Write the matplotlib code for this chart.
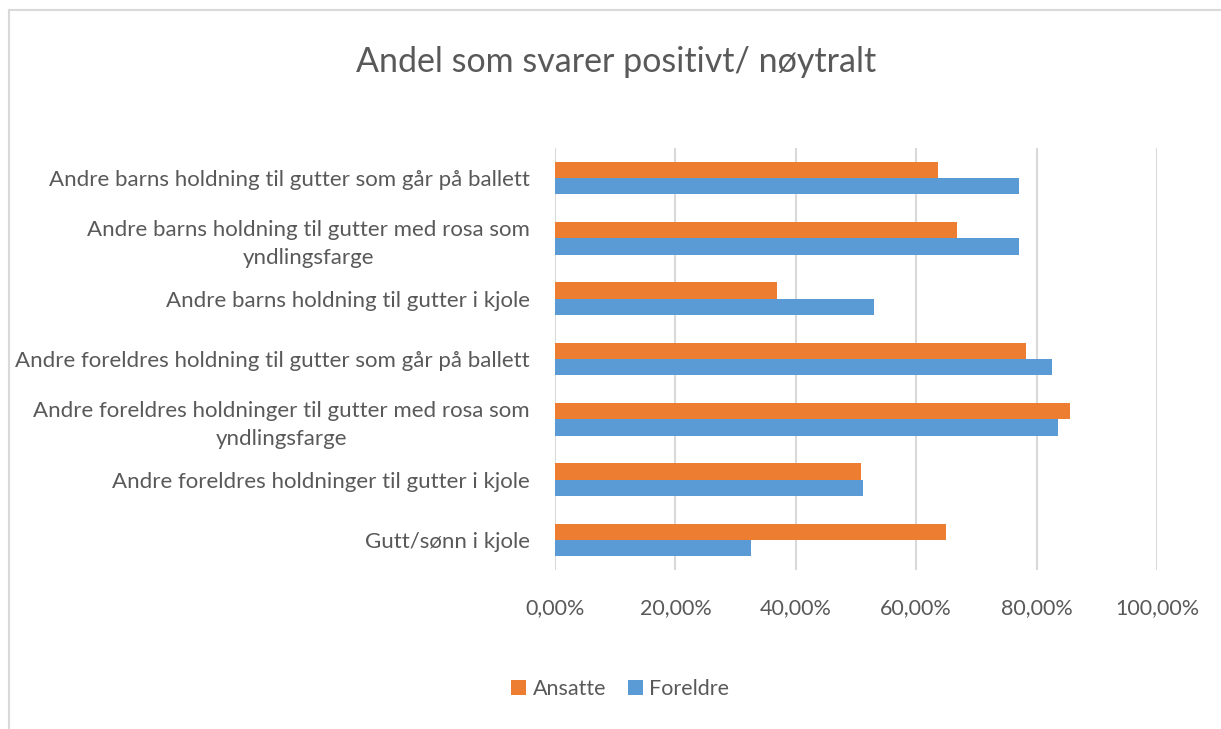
import matplotlib
matplotlib.use("Agg")
import matplotlib.pyplot as plt
import numpy as np
from matplotlib.ticker import FuncFormatter

categories = [
    "Andre barns holdning til gutter som går på ballett",
    "Andre barns holdning til gutter med rosa som\nyndlingsfarge",
    "Andre barns holdning til gutter i kjole",
    "Andre foreldres holdning til gutter som går på ballett",
    "Andre foreldres holdninger til gutter med rosa som\nyndlingsfarge",
    "Andre foreldres holdninger til gutter i kjole",
    "Gutt/sønn i kjole",
]
ansatte = [63.6, 66.7, 36.9, 78.2, 85.5, 50.9, 64.9]
foreldre = [77.0, 77.0, 53.0, 82.5, 83.6, 51.1, 32.6]
xticks = [0, 20, 40, 60, 80, 100]

plt.rcParams['font.family'] = ['Lato', 'DejaVu Sans']
gray = '#595959'

fig = plt.figure(figsize=(12.21, 7.29), dpi=100)
ax = fig.add_axes([555/1221, 1-570/729, (1157-555)/1221, (570-148)/729])

y = np.arange(len(categories))
h = 0.27
ax.barh(y - h/2, ansatte, height=h, color='#ED7D31', label='Ansatte', zorder=3)
ax.barh(y + h/2, foreldre, height=h, color='#5B9BD5', label='Foreldre', zorder=3)

ax.set_ylim(len(categories) - 0.5, -0.5)
ax.set_xlim(0, 100)
ax.set_xticks(xticks)
ax.xaxis.set_major_formatter(FuncFormatter(lambda v, p: f"{v:.2f}".replace('.', ',') + '%'))
ax.set_yticks(y)
ax.set_yticklabels(categories, multialignment='center', linespacing=1.5)
ax.tick_params(axis='both', length=0, colors=gray)
ax.tick_params(axis='x', pad=20, labelsize=15.5)
ax.tick_params(axis='y', pad=18, labelsize=16)
for s in ax.spines.values():
    s.set_visible(False)
ax.grid(axis='x', color='#d9d9d9', linewidth=1.5, zorder=0)
ax.set_axisbelow(True)

fig.text(616/1221, 1-62/729, "Andel som svarer positivt/ nøytralt", ha='center', va='center',
         fontsize=24.5, color=gray)

leg = fig.legend(loc='center', bbox_to_anchor=(620/1221, 1-689/729), ncol=2, frameon=False,
                 fontsize=15.5, handlelength=0.7, handleheight=0.7, handletextpad=0.3,
                 columnspacing=1.0)
for t in leg.get_texts():
    t.set_color(gray)

# chart border
fig.add_artist(plt.Line2D([9/1221, 9/1221], [0, 1-10/729], color='#d9d9d9', lw=1.5))
fig.add_artist(plt.Line2D([9/1221, 1], [1-10/729, 1-10/729], color='#d9d9d9', lw=1.5))

fig.savefig('out.png', dpi=100, facecolor='white')
